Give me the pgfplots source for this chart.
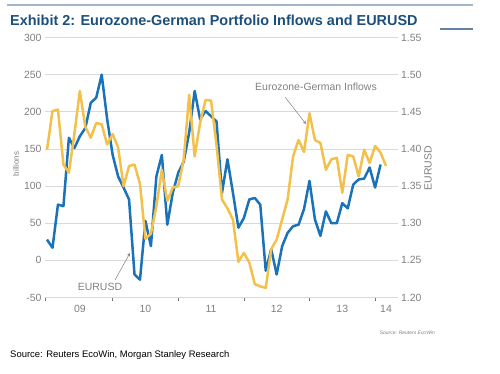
\documentclass[border=0pt]{standalone}
\usepackage{fontspec}
\setmainfont{Liberation Sans}
\usepackage{pgfplots}
\usepackage{pgfplotstable}
\pgfplotsset{compat=1.18}
\definecolor{eurblue}{HTML}{1A72B8}
\definecolor{inflow}{HTML}{F3C04B}
\definecolor{gridc}{HTML}{D9D9D9}
\definecolor{labc}{HTML}{808080}
\definecolor{titc}{HTML}{1D4F7C}
\definecolor{topline}{HTML}{9FB6CB}

% month index (0 = Jan 2009) and EURUSD
\pgfplotstableread{
m v
0 1.278
1 1.267
2 1.325
3 1.323
4 1.415
5 1.401
6 1.417
7 1.428
8 1.462
9 1.469
10 1.500
11 1.440
12 1.392
13 1.363
14 1.348
15 1.332
16 1.231
17 1.224
18 1.303
19 1.269
20 1.363
21 1.392
22 1.298
23 1.341
24 1.368
25 1.383
26 1.422
27 1.478
28 1.440
29 1.451
30 1.444
31 1.437
32 1.341
33 1.386
34 1.341
35 1.294
36 1.307
37 1.332
38 1.334
39 1.325
40 1.236
41 1.265
42 1.231
43 1.269
44 1.287
45 1.296
46 1.298
47 1.319
48 1.357
49 1.305
50 1.283
51 1.316
52 1.300
53 1.300
54 1.327
55 1.320
56 1.352
57 1.359
58 1.360
59 1.375
60 1.348
61 1.379
}\eurusd

% month index and Eurozone-German inflows (billions)
\pgfplotstableread{
m v
0 149
1 201
2 203
3 129
4 118
5 170
6 228
7 180
8 165
9 185
10 183
11 156
12 170
13 152
14 100
15 127
16 129
17 103
18 29
19 36
20 73
21 122
22 80
23 98
24 100
25 136
26 223
27 140
28 185
29 216
30 215
31 155
32 82
33 70
34 55
35 -2
36 10
37 -3
38 -32
39 -35
40 -37
41 15
42 28
43 55
44 82
45 140
46 162
47 146
48 198
49 162
50 158
51 122
52 136
53 138
54 91
55 142
56 140
57 113
58 149
59 131
60 154
61 145
62 127
}\inflows

\begin{document}
\begin{tikzpicture}[x=1bp,y=1bp]
\path[use as bounding box] (0,0) rectangle (500,373);

\begin{axis}[
  at={(45bp,75.5bp)}, anchor=south west, scale only axis,
  width=352.5bp, height=260bp,
  xmin=-0.37, xmax=64.1, ymin=1.20, ymax=1.55,
  axis y line*=right, axis x line*=bottom,
  axis line style={draw=none},
  ytick={1.20,1.25,1.30,1.35,1.40,1.45,1.50,1.55},
  yticklabel style={/pgf/number format/.cd, fixed, fixed zerofill, precision=2},
  ymajorgrids, grid style={gridc, line width=0.8bp},
  ytick style={draw=none},
  xtick={-0.37,12,24,36,48,60}, xticklabels={},
  xtick style={draw=black!55, line width=0.7bp},
  xtick align=outside, major tick length=3.5bp,
  extra x ticks={6,18,30,42,54,62},
  extra x tick labels={09,10,11,12,13,14},
  extra x tick style={major tick length=0pt, xtick style={draw=none}, xticklabel style={yshift=-4bp}},
  ticklabel style={font=\fontsize{10.5}{12}\selectfont, text=labc},
  /pgf/number format/assume math mode=true,
]
\addplot[eurblue, line width=2.5bp, line join=round] table[x=m, y=v] {\eurusd};
\end{axis}

\begin{axis}[
  at={(45bp,75.5bp)}, anchor=south west, scale only axis,
  width=352.5bp, height=260bp,
  xmin=-0.37, xmax=64.1, ymin=-50, ymax=300,
  axis y line*=left, axis x line=none,
  axis line style={draw=none},
  ytick={-50,0,50,100,150,200,250,300},
  ytick style={draw=none},
  ticklabel style={font=\fontsize{10.5}{12}\selectfont, text=labc},
  /pgf/number format/assume math mode=true,
]
\addplot[inflow, line width=2.5bp, line join=round] table[x=m, y=v] {\inflows};
\end{axis}

% axis titles
\node[rotate=90, text=labc, font=\fontsize{8}{9}\selectfont] at (16,209) {billions};
\node[rotate=90, text=labc, font=\fontsize{10.5}{12}\selectfont] at (428,205) {EURUSD};

% annotations
\draw[black!50, line width=0.5bp, -stealth] (115,93) -- (130,120);
\node[text=labc, font=\fontsize{10.5}{12}\selectfont] at (100,86) {EURUSD};
\draw[black!50, line width=0.5bp, -stealth] (285,276) -- (306,249);
\node[text=labc, font=\fontsize{10.5}{12}\selectfont] at (316,286) {Eurozone-German Inflows};

% title and frame lines
\draw[topline, line width=1.3bp] (7,368) -- (473,368);
\node[anchor=base west, inner sep=0, text=titc, font=\fontsize{14.5}{17}\selectfont\bfseries] at (10,348) {Exhibit 2: Eurozone-German Portfolio Inflows and EURUSD};
\draw[titc!70, line width=1.3bp] (440,344) -- (473,344);

% sources
\node[anchor=base east, inner sep=0, text=labc, font=\fontsize{5}{6}\selectfont\itshape] at (435,39) {Source: Reuters EcoWin};
\node[anchor=base west, inner sep=0, font=\fontsize{9.5}{11}\selectfont] at (10,16) {Source: Reuters EcoWin, Morgan Stanley Research};
\end{tikzpicture}
\end{document}
